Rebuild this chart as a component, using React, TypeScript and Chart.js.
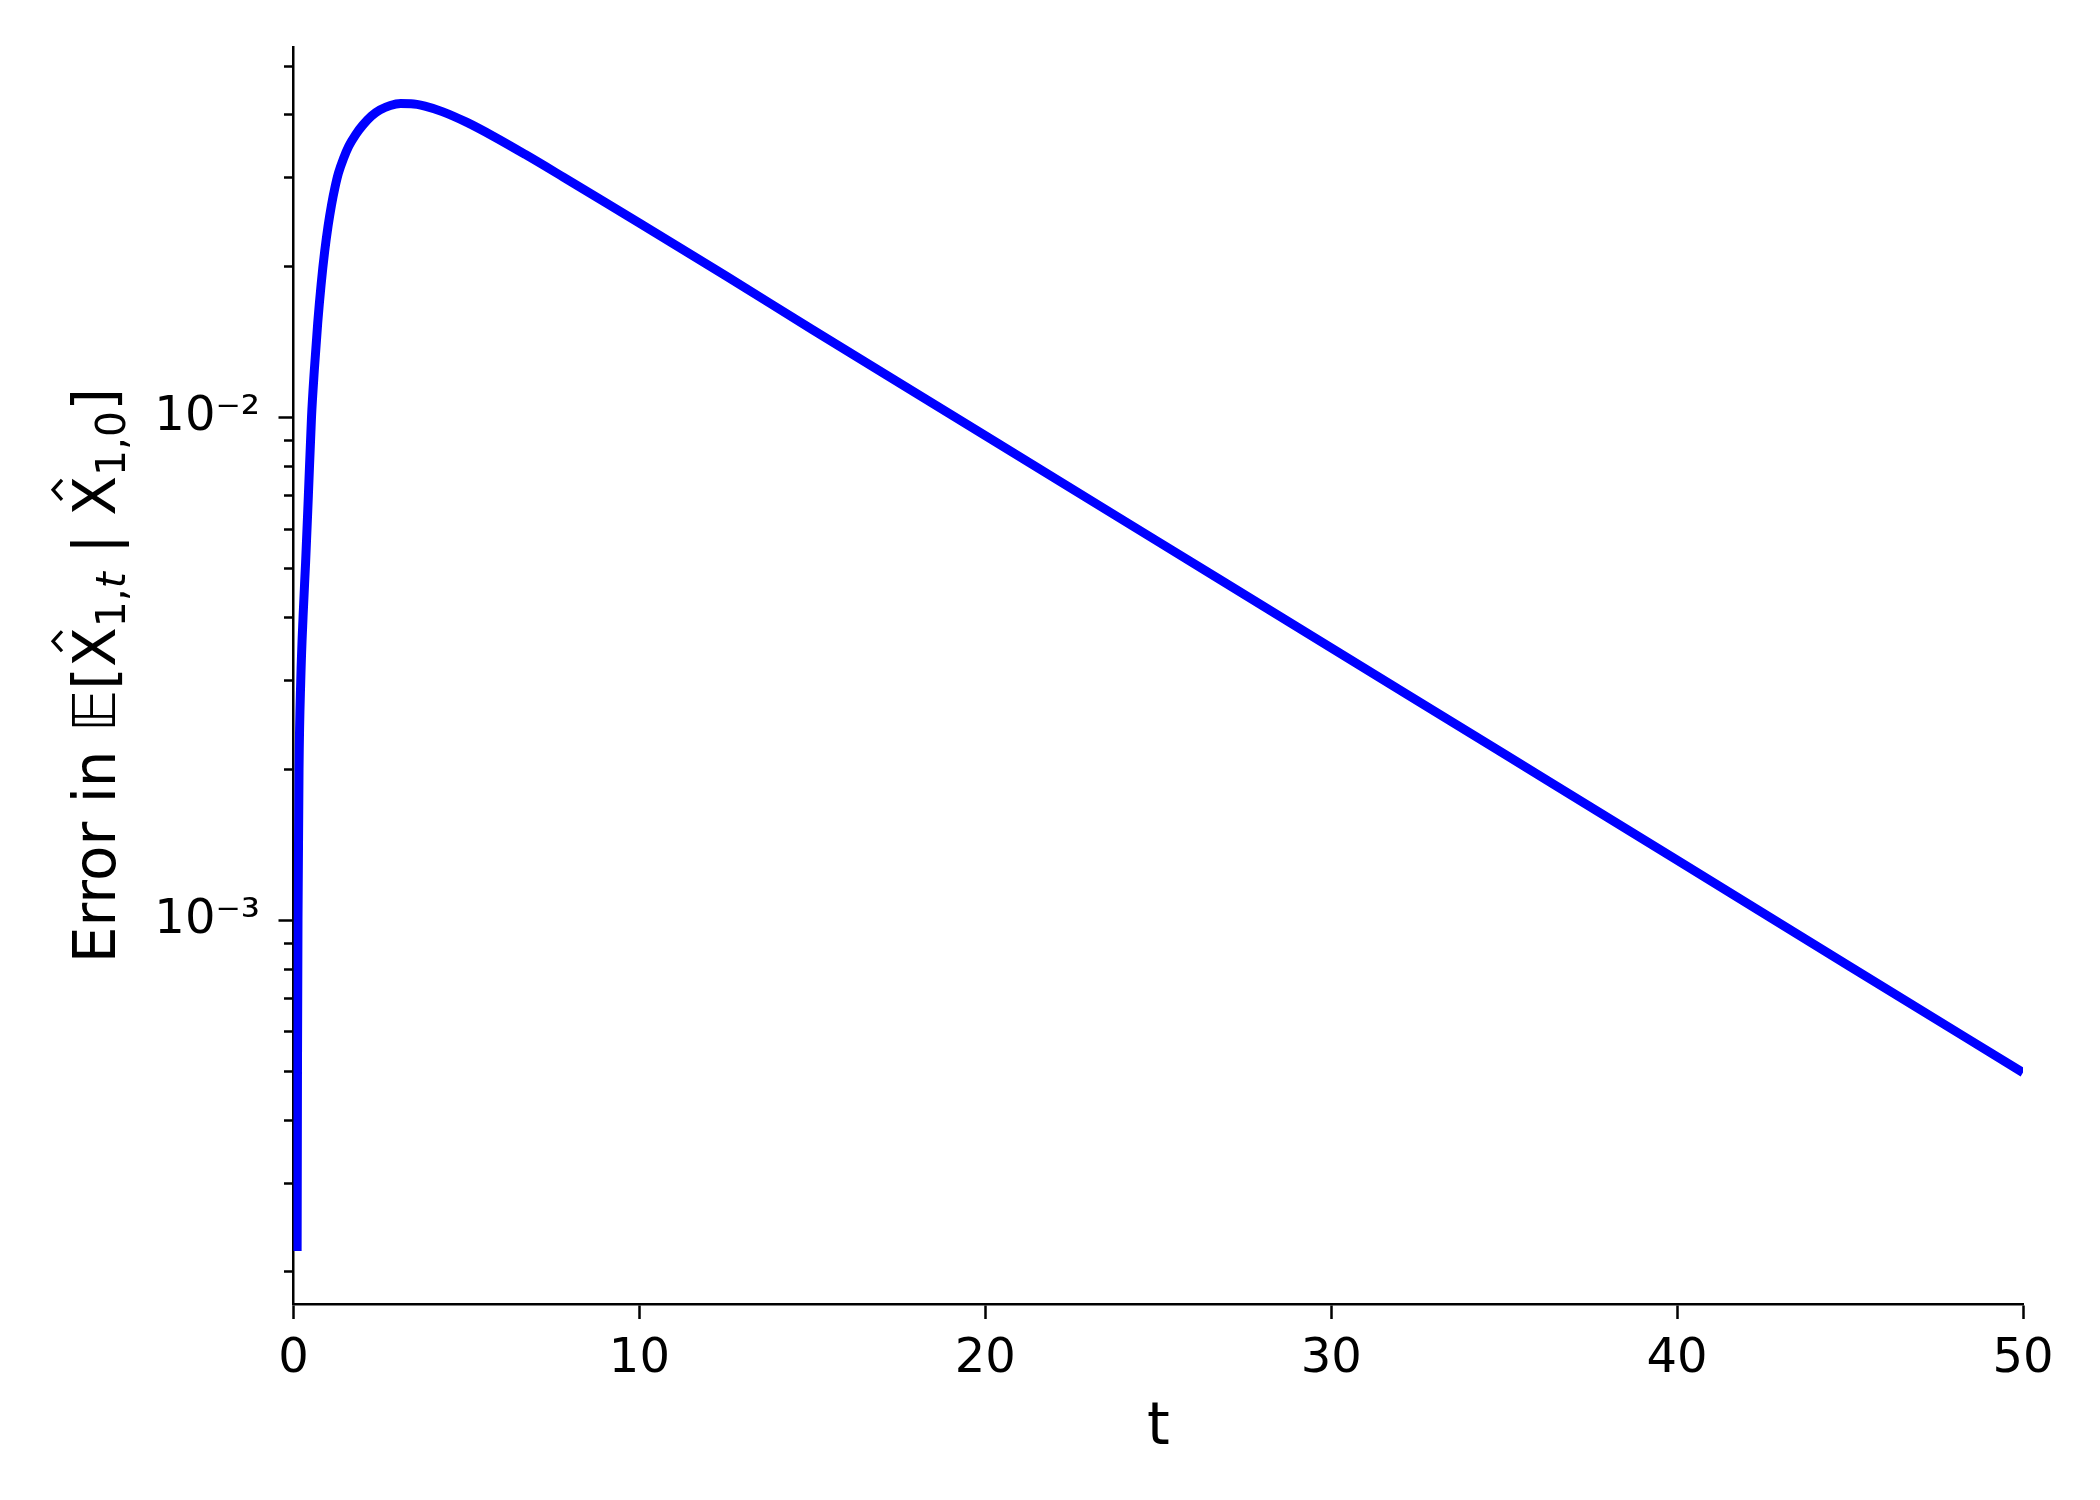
import React, { useEffect, useRef } from 'react';
import { Chart, registerables } from 'chart.js';

Chart.register(...registerables);

// ---- data ----
const tValues = [
  0.105, 0.115, 0.13, 0.16, 0.21, 0.28, 0.35, 0.43, 0.52, 0.6, 0.7, 0.8, 0.9, 1.0, 1.1, 1.2, 1.3,
  1.45, 1.6, 1.8, 2.0, 2.25, 2.5, 2.8, 3.1, 3.4, 3.8, 4.3, 5.0, 5.8, 6.7, 7.8, 9.0, 10.5, 12.5,
  15, 20, 25, 30, 35, 40, 45, 50,
];
const errorValues = [
  2.2e-4, 5.0e-4, 1.0e-3, 2.0e-3, 3.0e-3, 4.07e-3, 5.15e-3, 7.0e-3, 1.0e-2, 1.236e-2, 1.542e-2,
  1.845e-2, 2.136e-2, 2.405e-2, 2.651e-2, 2.871e-2, 3.064e-2,
  3.281e-2, 3.467e-2, 3.656e-2, 3.814e-2, 3.977e-2, 4.091e-2, 4.176e-2, 4.211e-2, 4.209e-2,
  4.164e-2, 4.06e-2, 3.868e-2, 3.619e-2, 3.336e-2, 3.008e-2, 2.683e-2, 2.321e-2, 1.913e-2,
  1.496e-2, 9.204e-3, 5.662e-3, 3.483e-3, 2.143e-3, 1.318e-3, 8.09e-4, 4.98e-4,
];

const xTickValues = [0, 10, 20, 30, 40, 50];
const yMajorTicks = [1e-3, 1e-2];
const yMajorLabels = ['10⁻³', '10⁻²'];
const yMinorTicks = [2e-4, 3e-4, 4e-4, 5e-4, 6e-4, 7e-4, 8e-4, 9e-4, 2e-3, 3e-3, 4e-3, 5e-3, 6e-3, 7e-3, 8e-3, 9e-3, 2e-2, 3e-2, 4e-2, 5e-2];
const xRange = [0, 50];
const yRange = [1.726e-4, 0.0545];

const xTitle = 't';
const yTitlePrefix = 'Error in ';
const yTitleBB = '𝔼';
const yTitleSub1 = '1,';
const yTitleSubT = 't';
const yTitleSub2 = '1,0';

const FONT = "'DejaVu Sans'";

const titlePlugin = {
  id: 'mathTitles',
  afterDraw(chart: any) {
    const ctx = chart.ctx;
    const area = chart.chartArea;
    ctx.save();
    ctx.fillStyle = '#000';
    // x title
    ctx.font = `58px ${FONT}`;
    ctx.textAlign = 'center';
    ctx.textBaseline = 'alphabetic';
    ctx.fillText(xTitle, (area.left + area.right) / 2, 1444);

    // y title (rotated, math-like)
    const main = `58px ${FONT}`;
    const sub = `41px ${FONT}`;
    const subIt = `italic 41px ${FONT}`;
    type Seg = { text: string; font: string; dy: number; hat?: boolean };
    const segs: Seg[] = [
      { text: yTitlePrefix, font: main, dy: 0 },
      { text: yTitleBB, font: main, dy: 0 },
      { text: '[', font: main, dy: 0 },
      { text: 'X', font: main, dy: 0, hat: true },
      { text: yTitleSub1, font: sub, dy: 10 },
      { text: yTitleSubT, font: subIt, dy: 10 },
      { text: ' | ', font: main, dy: 0 },
      { text: 'X', font: main, dy: 0, hat: true },
      { text: yTitleSub2, font: sub, dy: 10 },
      { text: ']', font: main, dy: 0 },
    ];
    ctx.textAlign = 'left';
    let total = 0;
    const widths = segs.map((s) => {
      ctx.font = s.font;
      const w = ctx.measureText(s.text).width;
      total += w;
      return w;
    });
    const centerY = (area.top + area.bottom) / 2;
    ctx.translate(115, centerY);
    ctx.rotate(-Math.PI / 2);
    let x = -total / 2;
    segs.forEach((s, i) => {
      ctx.font = s.font;
      ctx.fillText(s.text, x, s.dy);
      if (s.hat) {
        const cx = x + widths[i] / 2 + 6;
        ctx.beginPath();
        ctx.moveTo(cx - 10, -53);
        ctx.lineTo(cx, -62);
        ctx.lineTo(cx + 10, -53);
        ctx.lineWidth = 3.2;
        ctx.strokeStyle = '#000';
        ctx.lineJoin = 'miter';
        ctx.stroke();
      }
      x += widths[i];
    });
    ctx.restore();
  },
};

export default function App() {
  const ref = useRef<HTMLCanvasElement | null>(null);
  useEffect(() => {
    if (!ref.current) return;
    const points = tValues.map((t, i) => ({ x: t, y: errorValues[i] }));
    const allYTicks = [...yMinorTicks, ...yMajorTicks].sort((a, b) => a - b);
    const chart = new Chart(ref.current, {
      type: 'line',
      data: {
        datasets: [
          {
            data: points,
            borderColor: '#0000ff',
            backgroundColor: '#0000ff',
            borderWidth: 9,
            pointRadius: 0,
            fill: false,
            cubicInterpolationMode: 'monotone',
            borderCapStyle: 'butt',
            borderJoinStyle: 'round',
            clip: 0,
          } as any,
        ],
      },
      options: {
        animation: false,
        responsive: false,
        devicePixelRatio: 1,
        parsing: false,
        layout: { padding: { top: 44, right: 77, left: 0, bottom: 0 } },
        plugins: { legend: { display: false }, tooltip: { enabled: false }, title: { display: false } },
        scales: {
          x: {
            type: 'linear',
            position: 'bottom',
            min: xRange[0],
            max: xRange[1],
            afterBuildTicks: (scale: any) => {
              scale.ticks = xTickValues.map((v) => ({ value: v }));
            },
            afterFit: (scale: any) => {
              scale.height = 196;
            },
            ticks: {
              autoSkip: false,
              maxRotation: 0,
              color: '#000',
              padding: 12,
              font: { family: FONT, size: 48 },
              callback: (v: any) => String(v),
            },
            grid: {
              drawOnChartArea: false,
              drawTicks: true,
              tickLength: 15,
              tickWidth: 2.5,
              tickColor: '#000',
            },
            border: { display: true, color: '#000', width: 2.5 },
          },
          y: {
            type: 'logarithmic',
            position: 'left',
            min: yRange[0],
            max: yRange[1],
            afterBuildTicks: (scale: any) => {
              scale.ticks = allYTicks.map((v) => ({ value: v, major: yMajorTicks.includes(v) }));
            },
            afterFit: (scale: any) => {
              scale.width = 293.5;
            },
            ticks: {
              autoSkip: false,
              color: '#000',
              padding: 18.5,
              font: { family: FONT, size: 48 },
              callback: (v: any) => {
                const i = yMajorTicks.indexOf(v);
                return i >= 0 ? yMajorLabels[i] : '';
              },
            },
            grid: {
              drawOnChartArea: false,
              drawTicks: true,
              tickLength: 15,
              tickWidth: 2.5,
              tickColor: '#000',
              tickBorderDash: (c: any) =>
                c.tick && yMajorTicks.includes(c.tick.value) ? [] : [0, 5.5, 8.5, 100],
            } as any,
            border: { display: true, color: '#000', width: 2.5 },
          },
        },
      },
      plugins: [titlePlugin],
    });
    return () => chart.destroy();
  }, []);
  return (
    <div style={{ position: 'absolute', left: 0, top: 0, width: 2100, height: 1500, background: '#fff' }}>
      <canvas ref={ref} width={2100} height={1500} style={{ width: 2100, height: 1500, display: 'block' }} />
    </div>
  );
}
